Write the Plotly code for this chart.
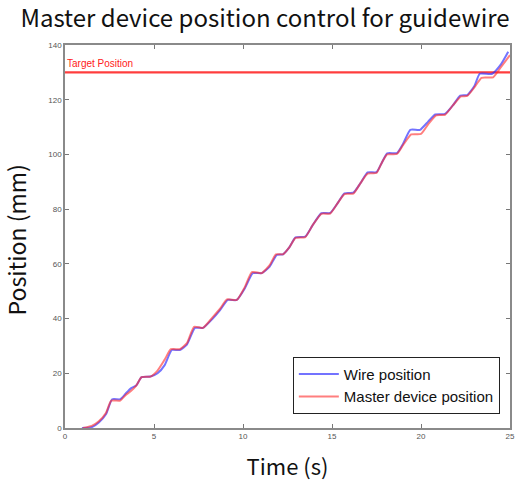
import plotly.graph_objects as go

wire_t = [0.95, 1.5, 1.9, 2.3, 2.65, 3.1, 3.4, 3.7, 4.0, 4.3, 4.8, 5.2, 5.6, 6.0, 6.45, 6.85, 7.3, 7.75,
          8.3, 8.7, 9.15, 9.65, 10.1, 10.55, 11.05, 11.5, 11.9, 12.25, 12.6, 12.95, 13.5, 13.9, 14.4,
          14.9, 15.3, 15.7, 16.2, 16.6, 17.0, 17.5, 17.8, 18.1, 18.65, 19.0, 19.4, 19.95, 20.4, 20.8,
          21.35, 21.8, 22.2, 22.6, 23.0, 23.3, 24.0, 24.5, 24.9]
wire_pos = [0, 0.3, 2, 5, 10.5, 10.5, 12.5, 14.5, 15.5, 18.6, 18.8, 20, 23, 28.5, 28.5, 30.5, 36.6, 36.6,
            40, 43, 46.8, 46.8, 51, 56.6, 56.6, 59, 63.3, 63.5, 66, 69.7, 70, 74, 78.5,
            78.6, 82, 85.8, 86, 89.5, 93.4, 93.5, 97, 100.4, 100.5, 104, 109, 109, 112, 114.6,
            114.8, 118, 121.5, 121.7, 125, 129.5, 129.5, 133, 137.5]

master_t = [1.0, 1.5, 1.9, 2.3, 2.6, 3.1, 3.4, 3.7, 4.0, 4.3, 4.8, 5.2, 5.6, 5.95, 6.45, 6.85, 7.25, 7.75,
            8.3, 8.7, 9.1, 9.65, 10.1, 10.5, 11.05, 11.5, 11.85, 12.25, 12.6, 12.95, 13.5, 13.9, 14.4,
            14.9, 15.3, 15.7, 16.2, 16.6, 17.0, 17.5, 17.8, 18.1, 18.65, 19.0, 19.45, 20.0, 20.4, 20.85,
            21.35, 21.8, 22.25, 22.6, 23.0, 23.4, 24.05, 24.5, 25.0]
master_pos = [0, 0.8, 2.5, 5.5, 10, 10, 12, 13.5, 15.5, 18.6, 18.8, 21, 25, 28.8, 28.8, 31, 37, 36.6,
              40.5, 43.5, 47, 46.8, 51.5, 57, 56.6, 59.5, 63.5, 63.5, 66, 69.5, 69.8, 74, 78.3,
              78.4, 82, 85.5, 85.7, 89.5, 93, 93.2, 97, 100, 100.2, 103.5, 107.3, 107.5, 111, 114.3,
              114.5, 118, 121.2, 121.4, 124.5, 128, 128.2, 132, 136.3]

target_t = [0, 25]
target_pos = [130, 130]

x_ticks = [0, 5, 10, 15, 20, 25]
y_ticks = [0, 20, 40, 60, 80, 100, 120, 140]

fig = go.Figure()
fig.add_trace(go.Scatter(x=target_t, y=target_pos, mode="lines",
                         line=dict(color="rgba(255,40,40,0.9)", width=2.2),
                         showlegend=False, hoverinfo="skip"))
fig.add_trace(go.Scatter(x=wire_t, y=wire_pos, mode="lines", name="Wire position",
                         line=dict(color="rgba(40,40,255,0.65)", width=2, shape="spline", smoothing=0.5)))
fig.add_trace(go.Scatter(x=master_t, y=master_pos, mode="lines", name="Master device position",
                         line=dict(color="rgba(255,40,40,0.6)", width=2, shape="spline", smoothing=0.5)))

fig.add_annotation(x=0.0, y=130.6, xref="x", yref="y", text="Target Position", showarrow=False,
                   xanchor="left", yanchor="bottom",
                   font=dict(family="Arial, Liberation Sans", size=10, color="#ff2020"))

# y-axis title placed as rotated text in the left margin
fig.add_annotation(x=-0.11, y=0.49, xref="paper", yref="paper", text="Position (mm)",
                   showarrow=False, textangle=-90, xanchor="center", yanchor="middle",
                   font=dict(family="Noto Sans CJK KR", size=23, color="#111"))

axis_common = dict(showline=True, linecolor="#8a8a8a", linewidth=1.5, mirror="ticks",
                   ticks="inside", ticklen=4, tickcolor="#777", tickwidth=1,
                   showgrid=False, zeroline=False, automargin=False,
                   tickfont=dict(family="Arial, Liberation Sans", size=8, color="#555"))

fig.update_xaxes(range=[0, 25], tickvals=x_ticks,
                 title=dict(text="Time (s)", standoff=20,
                            font=dict(family="Noto Sans CJK KR", size=22, color="#111")),
                 **axis_common)
fig.update_yaxes(range=[0, 140], tickvals=y_ticks, **axis_common)

fig.update_layout(
    width=530, height=481,
    margin=dict(l=65, r=20, t=45, b=53, autoexpand=False),
    paper_bgcolor="white", plot_bgcolor="white",
    title=dict(text="Master device position control for guidewire", x=0.5, xanchor="center",
               xref="container", y=0.978, yanchor="top", yref="container",
               font=dict(family="Noto Sans CJK KR", size=24, color="#111")),
    legend=dict(x=0.512, y=0.037, xanchor="left", yanchor="bottom",
                bgcolor="white", bordercolor="#222", borderwidth=1,
                font=dict(family="Arial, Liberation Sans", size=15, color="#111"),
                tracegroupgap=0, itemwidth=40),
    showlegend=True,
)

fig.write_html("out.html", config={"displayModeBar": False},
               post_script="document.body.style.margin='0';document.body.style.padding='0';")
